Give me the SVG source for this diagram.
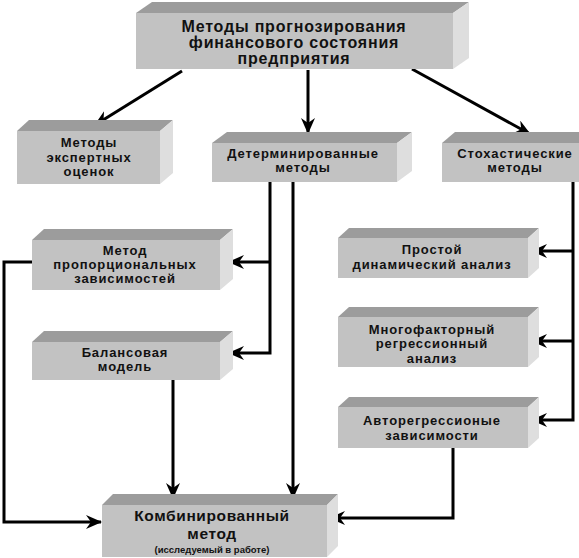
<svg xmlns="http://www.w3.org/2000/svg" width="579" height="558" viewBox="0 0 579 558">
<style>
.f{fill:#c2c2c2}
.t{fill:#9c9c9c}
.r{fill:#dedede}
text{font-family:"Liberation Sans",Arial,sans-serif;font-weight:bold;fill:#111;text-anchor:middle}
.s{font-size:13px;letter-spacing:0.9px}
.h{font-size:16px;letter-spacing:0.8px}
.c{stroke:#000;stroke-width:3;fill:none}
</style>
<defs>
<marker id="a" markerUnits="userSpaceOnUse" markerWidth="16" markerHeight="14" refX="15" refY="7" orient="auto">
<path d="M0,0 L16,7 L0,14 L5,7 z" fill="#000"/>
</marker>
</defs>
<rect width="579" height="558" fill="#fff"/>

<g id="connectors">
<polyline class="c" points="182,71 95,125" marker-end="url(#a)"/>
<polyline class="c" points="308,70 308,133" marker-end="url(#a)"/>
<polyline class="c" points="412,69 530,134" marker-end="url(#a)"/>
<polyline class="c" points="270,182 270,353 229,353" marker-end="url(#a)"/>
<polyline class="c" points="270,262 229,262" marker-end="url(#a)"/>
<polyline class="c" points="293,182 293,498" marker-end="url(#a)"/>
<polyline class="c" points="32,262 4,262 4,522 101,522" marker-end="url(#a)"/>
<polyline class="c" points="173,380 173,498" marker-end="url(#a)"/>
<polyline class="c" points="573,182 573,420 532,420" marker-end="url(#a)"/>
<polyline class="c" points="573,251 532,251" marker-end="url(#a)"/>
<polyline class="c" points="573,341 532,341" marker-end="url(#a)"/>
<polyline class="c" points="453,448 453,518 330,518" marker-end="url(#a)"/>
</g>

<g id="top">
<polygon class="t" points="136,13 152,2 469,2 453,13"/>
<polygon class="r" points="453,13 469,2 469,58 453,69"/>
<rect class="f" x="136" y="13" width="317" height="56"/>
<text class="h" x="294" y="32">Методы прогнозирования</text>
<text class="h" x="294" y="48">финансового состояния</text>
<text class="h" x="294" y="64">предприятия</text>
</g>

<g id="expert">
<polygon class="t" points="17,131 29,120 173,120 160,131"/>
<polygon class="r" points="160,131 173,120 173,173 160,184"/>
<rect class="f" x="17" y="131" width="143" height="53"/>
<text class="s" x="89" y="147">Методы</text>
<text class="s" x="89" y="162">экспертных</text>
<text class="s" x="89" y="176">оценок</text>
</g>

<g id="determ">
<polygon class="t" points="212,143 227,132 412,132 397,143"/>
<polygon class="r" points="397,143 412,132 412,171 397,182"/>
<rect class="f" x="212" y="143" width="185" height="39"/>
<text class="s" x="303" y="158">Детерминированные</text>
<text class="s" x="303" y="172">методы</text>
</g>

<g id="stoch">
<polygon class="t" points="442,143 455,132 595,132 582,143"/>
<rect class="f" x="442" y="143" width="140" height="39"/>
<text class="s" x="515" y="158">Стохастические</text>
<text class="s" x="515" y="172">методы</text>
</g>

<g id="prop">
<polygon class="t" points="32,240 44,229 233,229 220,240"/>
<polygon class="r" points="220,240 233,229 233,279 220,290"/>
<rect class="f" x="32" y="240" width="188" height="50"/>
<text class="s" x="125" y="255">Метод</text>
<text class="s" x="125" y="269">пропорциональных</text>
<text class="s" x="125" y="283">зависимостей</text>
</g>

<g id="balance">
<polygon class="t" points="32,342 44,331 233,331 220,342"/>
<polygon class="r" points="220,342 233,331 233,369 220,380"/>
<rect class="f" x="32" y="342" width="188" height="38"/>
<text class="s" x="125" y="357">Балансовая</text>
<text class="s" x="125" y="371">модель</text>
</g>

<g id="simple">
<polygon class="t" points="338,238 349,228 539,228 528,238"/>
<polygon class="r" points="528,238 539,228 539,268 528,278"/>
<rect class="f" x="338" y="238" width="190" height="40"/>
<text class="s" x="432" y="254">Простой</text>
<text class="s" x="432" y="269">динамический анализ</text>
</g>

<g id="multi">
<polygon class="t" points="338,317 349,307 539,307 528,317"/>
<polygon class="r" points="528,317 539,307 539,357 528,367"/>
<rect class="f" x="338" y="317" width="190" height="50"/>
<text class="s" x="432" y="334">Многофакторный</text>
<text class="s" x="432" y="348">регрессионный</text>
<text class="s" x="432" y="363">анализ</text>
</g>

<g id="auto">
<polygon class="t" points="338,407 349,397 539,397 528,407"/>
<polygon class="r" points="528,407 539,397 539,438 528,448"/>
<rect class="f" x="338" y="407" width="190" height="41"/>
<text class="s" x="432" y="425">Авторегрессионые</text>
<text class="s" x="432" y="440">зависимости</text>
</g>

<g id="combined">
<polygon class="t" points="102,505 113,494 338,494 327,505"/>
<polygon class="r" points="327,505 338,494 338,546 327,557"/>
<rect class="f" x="102" y="505" width="225" height="52"/>
<text x="212" y="521" font-size="15.5" letter-spacing="0.6">Комбинированный</text>
<text x="212" y="539" font-size="15.5" letter-spacing="0.6">метод</text>
<text x="212" y="553" font-size="9.5">(исследуемый в работе)</text>
</g>
</svg>
